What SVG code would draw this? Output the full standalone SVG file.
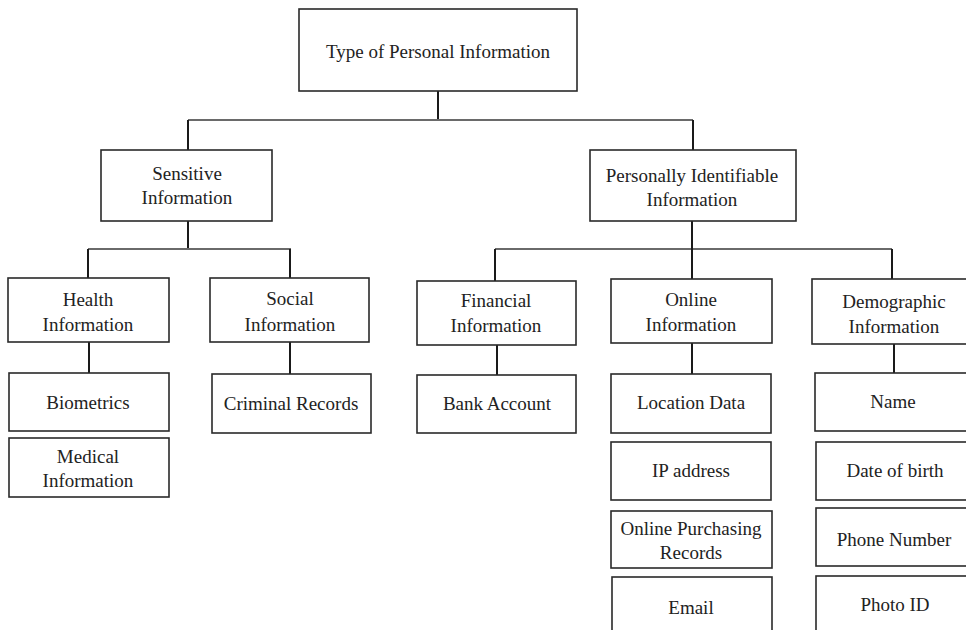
<svg xmlns="http://www.w3.org/2000/svg" width="966" height="630" viewBox="0 0 966 630">
<style>
.box{fill:#fff;stroke:#2a2a2a;stroke-width:1.6}
.t{font-family:"Liberation Serif","Times New Roman",serif;font-size:19px;fill:#222;text-anchor:middle}
.v{stroke:#1a1a1a;stroke-width:2;fill:none}
.h{stroke:#6a6a6a;stroke-width:2;fill:none}
</style>
<rect width="966" height="630" fill="#fff"/>
<g id="connectors">
<path class="v" d="M438 91V120"/>
<path class="h" d="M188 120H693"/>
<path class="v" d="M188 120V150M693 120V150"/>
<path class="v" d="M188 221V249"/>
<path class="h" d="M88 249H291"/>
<path class="v" d="M88 249V278M290 249V278"/>
<path class="h" d="M495 249H892"/>
<path class="v" d="M692 221V279"/>
<path class="v" d="M495 249V281M892 249V279"/>
<path class="v" d="M89 342V373"/>
<path class="v" d="M290 342V374"/>
<path class="v" d="M497 345V375"/>
<path class="v" d="M692 343V374"/>
<path class="v" d="M894 344V373"/>
</g>
<g id="root"><rect class="box" x="299" y="9" width="278" height="82"/><text class="t" x="438" y="58">Type of Personal Information</text></g>
<g id="sensitive"><rect class="box" x="101" y="150" width="171" height="71"/><text class="t" x="187" y="180">Sensitive</text><text class="t" x="187" y="204">Information</text></g>
<g id="pii"><rect class="box" x="590" y="150" width="206" height="71"/><text class="t" x="692" y="182">Personally Identifiable</text><text class="t" x="692" y="206">Information</text></g>
<g id="health"><rect class="box" x="8" y="278" width="161" height="64"/><text class="t" x="88" y="306">Health</text><text class="t" x="88" y="331">Information</text></g>
<g id="social"><rect class="box" x="210" y="278" width="159" height="64"/><text class="t" x="290" y="305">Social</text><text class="t" x="290" y="331">Information</text></g>
<g id="financial"><rect class="box" x="417" y="281" width="159" height="64"/><text class="t" x="496" y="307">Financial</text><text class="t" x="496" y="332">Information</text></g>
<g id="online"><rect class="box" x="611" y="279" width="161" height="64"/><text class="t" x="691" y="306">Online</text><text class="t" x="691" y="331">Information</text></g>
<g id="demographic"><rect class="box" x="812" y="279" width="170" height="65"/><text class="t" x="894" y="308">Demographic</text><text class="t" x="894" y="333">Information</text></g>
<g id="biometrics"><rect class="box" x="9" y="373" width="160" height="58"/><text class="t" x="88" y="409">Biometrics</text></g>
<g id="medical"><rect class="box" x="9" y="438" width="160" height="59"/><text class="t" x="88" y="463">Medical</text><text class="t" x="88" y="487">Information</text></g>
<g id="criminal"><rect class="box" x="212" y="374" width="159" height="59"/><text class="t" x="291" y="410">Criminal Records</text></g>
<g id="bank"><rect class="box" x="417" y="375" width="159" height="58"/><text class="t" x="497" y="410">Bank Account</text></g>
<g id="location"><rect class="box" x="611" y="374" width="160" height="59"/><text class="t" x="691" y="409">Location Data</text></g>
<g id="ip"><rect class="box" x="611" y="442" width="160" height="58"/><text class="t" x="691" y="477">IP address</text></g>
<g id="purchasing"><rect class="box" x="611" y="511" width="161" height="57"/><text class="t" x="691" y="535">Online Purchasing</text><text class="t" x="691" y="559">Records</text></g>
<g id="email"><rect class="box" x="612" y="577" width="160" height="70"/><text class="t" x="691" y="614">Email</text></g>
<g id="name"><rect class="box" x="815" y="373" width="170" height="58"/><text class="t" x="893" y="408">Name</text></g>
<g id="dob"><rect class="box" x="816" y="442" width="170" height="58"/><text class="t" x="895" y="477">Date of birth</text></g>
<g id="phone"><rect class="box" x="816" y="508" width="170" height="58"/><text class="t" x="894" y="546">Phone Number</text></g>
<g id="photo"><rect class="box" x="816" y="576" width="170" height="70"/><text class="t" x="895" y="611">Photo ID</text></g>
</svg>
